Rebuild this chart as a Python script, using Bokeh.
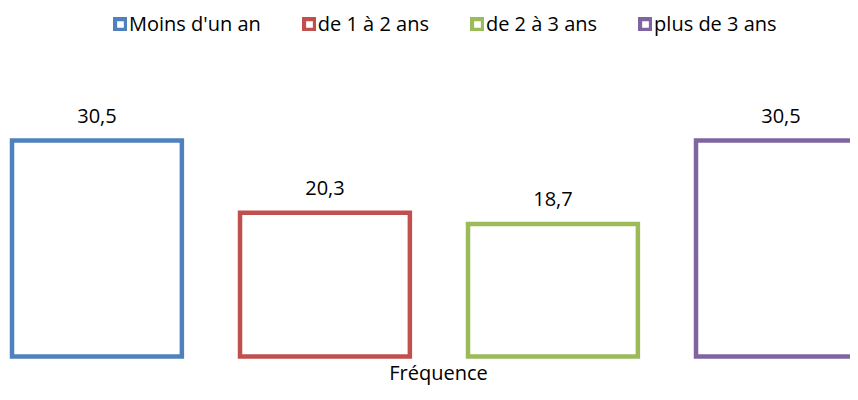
from bokeh.plotting import figure
from bokeh.models import Range1d, Legend, LegendItem, ColumnDataSource, Label
from bokeh.core.properties import value
from bokeh.embed import file_html
from bokeh.resources import INLINE

series = ["Moins d'un an", "de 1 à 2 ans", "de 2 à 3 ans", "plus de 3 ans"]
values = [30.5, 20.3, 18.7, 30.5]
colors = ["#4F81BD", "#C0504D", "#9BBB59", "#8064A2"]
category = "Fréquence"

FONT = "Open Sans"
FS = "20px"
BAR_W = 0.745

W, H = 850, 392
p = figure(width=W, height=H, output_backend="svg", toolbar_location=None,
           x_axis_location=None, y_axis_location=None, min_border=0,
           outline_line_color=None)
p.x_range = Range1d(-0.423, -0.423 + W / 228)
p.y_range = Range1d(-5.085, -5.085 + H / 7.08)
p.xgrid.visible = False
p.ygrid.visible = False

items = []
for i, (s, v, c) in enumerate(zip(series, values, colors)):
    x0, x1 = i - BAR_W / 2, i + BAR_W / 2
    src = ColumnDataSource(dict(xs=[[x0, x0, x1, x1]], ys=[[0, v, v, 0]]))
    r = p.patches(xs="xs", ys="ys", source=src, fill_color="white",
                  line_color=c, line_width=4.5, line_join="miter")
    lsrc = ColumnDataSource(dict(x=[i], y=[v], lab=[f"{v:.1f}".replace(".", ",")]))
    p.text(x="x", y="y", text="lab", source=lsrc, text_align="center",
           text_baseline="alphabetic", y_offset=-25, text_font=value(FONT),
           text_font_size=FS, text_color="#000000")
    items.append(LegendItem(label=s, renderers=[r]))

legend = Legend(items=items, orientation="horizontal", location=(113, 355),
                glyph_width=14, glyph_height=14, label_standoff=2, spacing=41,
                padding=0, margin=0, border_line_color=None,
                background_fill_alpha=0, label_text_font=FONT,
                label_text_font_size=FS, label_text_color="#000000")
p.add_layout(legend, "center")

p.add_layout(Label(x=438, y=20, x_units="screen", y_units="screen", text=category,
                   text_align="center", text_baseline="middle", text_font=FONT,
                   text_font_size=FS, text_color="#000000"))

open("out.html", "w").write(file_html(p, INLINE))
